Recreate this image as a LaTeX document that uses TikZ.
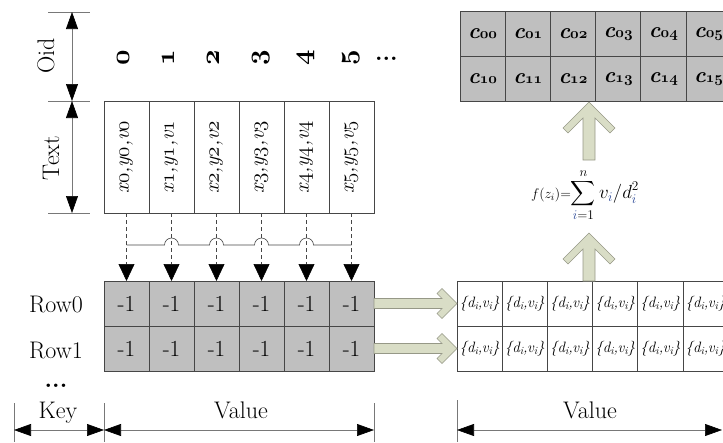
\RequirePackage{fix-cm}
\documentclass[tikz,border=0pt]{standalone}
\usepackage{graphicx}
\usepackage{exscale}
\usetikzlibrary{arrows.meta,calc}
\definecolor{cellgray}{RGB}{191,191,191}
\definecolor{gridline}{RGB}{70,70,70}
\definecolor{olivefill}{RGB}{217,221,198}
\definecolor{oliveline}{RGB}{150,152,135}
\definecolor{dimline}{RGB}{120,120,120}
\definecolor{idxblue}{RGB}{40,70,150}
\newcommand{\fs}[1]{\fontsize{#1}{#1}\selectfont}
\newcommand{\osn}[1]{$\mathnormal{#1}$}
\newcommand{\clab}[1]{{\fs{22}\bfseries\itshape c{\fs{15}\boldmath\osn{#1}}}}
\newcommand{\subi}{\raisebox{-2.5pt}{\fs{11}i}}
\newcommand{\dlab}{{\fs{15}\itshape\{d\subi,\kern-0.5pt v\subi\}}}
\begin{document}
\begin{tikzpicture}[x=1pt,y=-1pt,
 cell/.style={draw=gridline,line width=0.7pt,minimum width=45pt,minimum height=45pt,inner sep=0pt,outer sep=0pt},
 gcell/.style={cell,fill=cellgray},
 wcell/.style={cell,fill=white},
 tcell/.style={cell,minimum height=112pt},
 lab/.style={inner sep=0pt,font=\fs{24}},
 barrow/.style={draw=oliveline,fill=olivefill,line width=0.6pt,line join=miter},
 dim/.style={draw=dimline,line width=0.6pt,{Triangle[length=17pt,width=12pt,color=black]}-{Triangle[length=17pt,width=12pt,color=black]}},
 tickline/.style={draw=dimline,line width=0.6pt},
 feed/.style={draw=gridline,line width=0.6pt,dash pattern=on 4pt off 3pt,-{Triangle[length=17pt,width=16pt,color=black]}},
 hopline/.style={draw=gridline,line width=0.6pt}
]
\useasboundingbox (0,0) rectangle (723,442);

% ---- left: Oid numbers
\foreach \i in {0,...,5} {
  \node[lab,rotate=90,anchor=base,font=\fs{27}\boldmath] (o\i) at (129+45*\i,58) {\osn{\i}};
}
\node[lab,anchor=base west,font=\fs{24}\bfseries] (odots) at (375,60) {...};

% ---- text boxes
\foreach \i in {0,...,5} {
  \node[tcell] (t\i) at (126.5+45*\i,157) {\rotatebox{90}{\fs{21}\itshape x\osn{\i},y\osn{\i},v\osn{\i}}};
}

% ---- value grid (gray)
\foreach \i in {0,...,5} {
  \node[gcell,font=\fs{23}] (va\i) at (126.5+45*\i,303.5) {-1};
  \node[gcell,font=\fs{23}] (vb\i) at (126.5+45*\i,348.5) {-1};
}

% ---- C grid
\foreach \i in {0,...,5} {
  \node[gcell,minimum width=45.2pt] (ca\i) at (482.6+45.2*\i,33.5) {\clab{0\i}};
  \node[gcell,minimum width=45.2pt] (cb\i) at (482.6+45.2*\i,78.5) {\clab{1\i}};
}

% ---- d grid
\foreach \i in {0,...,5} {
  \node[wcell,minimum width=45.2pt] (da\i) at (479.6+45.2*\i,303.5) {\dlab};
  \node[wcell,minimum width=45.2pt] (db\i) at (479.6+45.2*\i,348.5) {\dlab};
}

% ---- row labels
\node[lab,anchor=base] (row0) at (56,312) {Row0};
\node[lab,anchor=base] (row1) at (56,358) {Row1};
\node[lab,anchor=base,font=\fs{24}\bfseries] (kdots) at (56,387) {...};
\node[lab,anchor=base] (key) at (58,418) {Key};
\node[lab,anchor=base] (val1) at (241,418) {Value};
\node[lab,anchor=base] (val2) at (590,418) {Value};
\node[lab,rotate=90] (oid) at (46,56) {Oid};
\node[lab,rotate=90] (txt) at (51,158) {Text};

% ---- dimension lines
\draw[tickline] (48,12) -- (90,12);
\draw[tickline] (48,101) -- (90,101);
\draw[tickline] (48,213) -- (90,213);
\coordinate (oidtop) at (72,12);
\coordinate (oidmid) at (72,101);
\coordinate (oidbot) at (72,213);
\draw[dim] (oidtop) -- (oidmid);
\draw[dim] (oidmid) -- (oidbot);

\draw[tickline] (14,403) -- (14,442);
\draw[tickline] (104,403) -- (104,442);
\draw[tickline] (374,403) -- (374,442);
\draw[tickline] (457,400) -- (457,442);
\coordinate (k0) at (14,430);
\coordinate (k1) at (104,430);
\coordinate (k2) at (374,430);
\coordinate (k3) at (457,430);
\coordinate (k4) at (722,430);
\draw[dim] (k0) -- (k1);
\draw[dim] (k1) -- (k2);
\draw[dim] (k3) -- (k4);

% ---- dashed feeds with hop line
\foreach \i in {0,...,5} {
  \draw[feed] (t\i.south) -- (va\i.north);
  \coordinate (h\i) at ($(t\i.south)!0.471!(va\i.north)$);
}
\draw[hopline] (h0) -- ($(h1)+(-7,0)$) arc[start angle=180,end angle=0,radius=7pt]
  -- ($(h2)+(-7,0)$) arc[start angle=180,end angle=0,radius=7pt]
  -- ($(h3)+(-7,0)$) arc[start angle=180,end angle=0,radius=7pt]
  -- ($(h4)+(-7,0)$) arc[start angle=180,end angle=0,radius=7pt]
  -- (h5);

% ---- right block arrows
\foreach \r/\s in {a/a,b/b} {
  \draw[barrow] (d\r0.west) -- ($(d\r0.west)+(-15,-15)$) -- ($(d\r0.west)+(-20,-10)$)
    -- ($(d\r0.west)+(-15,-5)$) -- ($(v\s5.east)+(0,-5)$) -- ($(v\s5.east)+(0,5)$)
    -- ($(d\r0.west)+(-15,5)$) -- ($(d\r0.west)+(-20,10)$) -- ($(d\r0.west)+(-15,15)$) -- cycle;
}

% ---- formula
\node[inner sep=0pt] (fz) at (585,195) {{\fs{14}$f(z_i)$=}{\fs{19}$\displaystyle\sum_{\textcolor{idxblue}{i}=1}^{n} v_{\textcolor{idxblue}{i}}/d_{\textcolor{idxblue}{i}}^{2}$}};

% ---- up block arrows
\coordinate (u1tip) at (589,102);
\coordinate (u1tail) at (589,160);
\coordinate (u2tip) at (589,233);
\coordinate (u2tail) at (589,281);
\foreach \u in {1,2} {
  \draw[barrow] (u\u tip) -- ($(u\u tip)+(-26,26)$) -- ($(u\u tip)+(-21,31)$)
    -- ($(u\u tip)+(-6,16)$) -- ($(u\u tail)+(-6,0)$) -- ($(u\u tail)+(6,0)$)
    -- ($(u\u tip)+(6,16)$) -- ($(u\u tip)+(21,31)$) -- ($(u\u tip)+(26,26)$) -- cycle;
}
\end{tikzpicture}
\end{document}
